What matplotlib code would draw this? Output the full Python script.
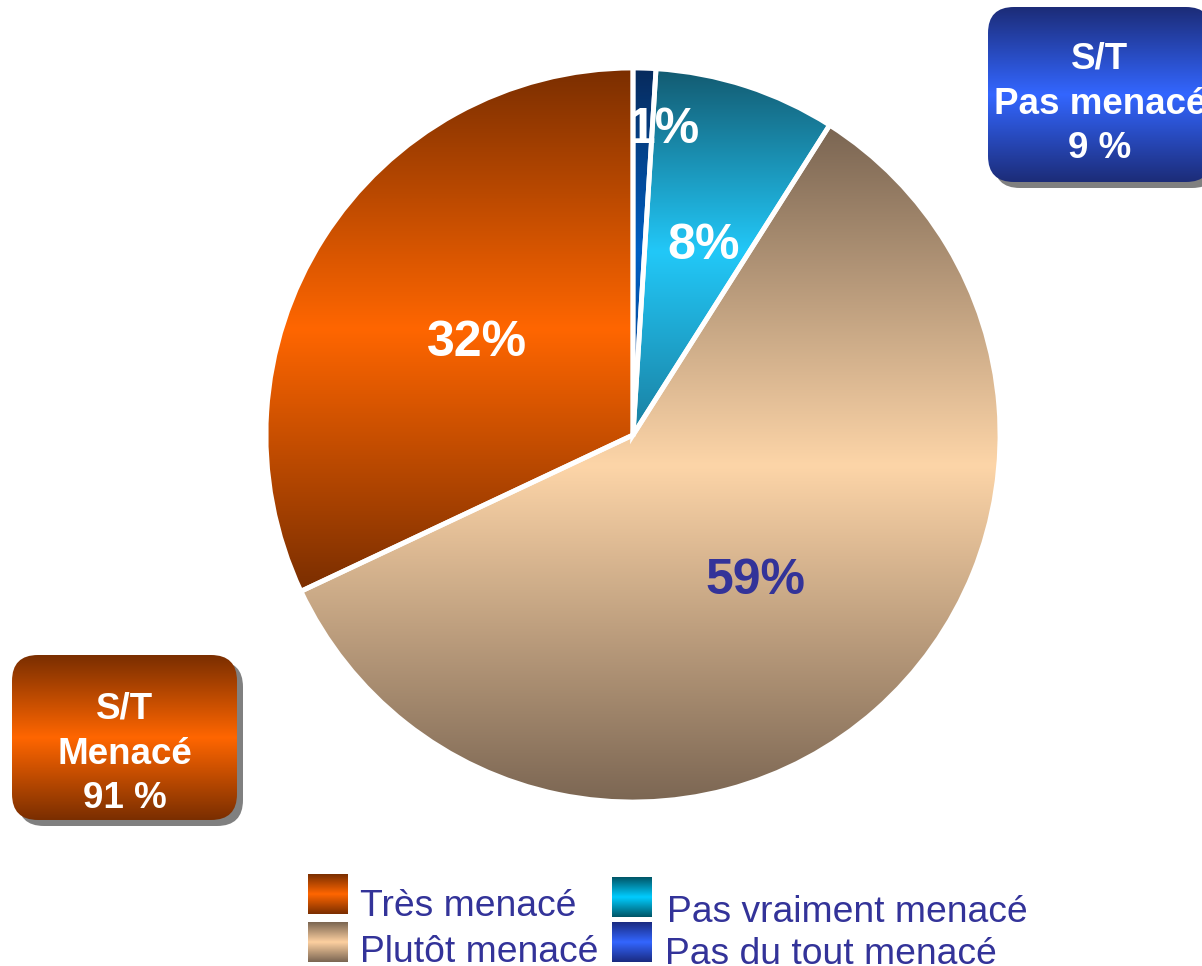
import numpy as np
import matplotlib
matplotlib.use('Agg')
import matplotlib.pyplot as plt
from matplotlib.colors import LinearSegmentedColormap
from matplotlib.patches import FancyBboxPatch, Rectangle

plt.rcParams['font.family'] = ['Liberation Sans', 'DejaVu Sans']

# data
categories = ['Pas du tout menacé', 'Pas vraiment menacé', 'Plutôt menacé', 'Très menacé']
values = [1, 8, 59, 32]
pct_labels = ['{}%'.format(v) for v in values]
threatened = values[2] + values[3]
not_threatened = values[0] + values[1]

# styles
W, H = 1202, 966
dy = 4  # small downward nudge for text centring
navy_text = '#333399'
slice_grad = [
    ['#072a5c', '#0060c4', '#0a3d80'],
    ['#135a70', '#22c8f8', '#1a7fa0'],
    ['#7a6552', '#fdd5a8', '#7a6552'],
    ['#7a2e00', '#ff6600', '#7a2e00'],
]
legend_grad = {
    'Très menacé': ['#7a2e00', '#ff6600', '#7a2e00'],
    'Plutôt menacé': ['#7a6552', '#fdd0a0', '#7a6552'],
    'Pas vraiment menacé': ['#005566', '#00ccff', '#005566'],
    'Pas du tout menacé': ['#1a2a80', '#3366ff', '#1a2a80'],
}
pct_colors = ['white', 'white', navy_text, 'white']
pct_r = [0.845, 0.56, 0.51, 0.50]
pct_dang = [-4, -2, -0.7, 0.9]

center = (633, H - 435)
radius = 367


def grad_cmap(cols):
    return LinearSegmentedColormap.from_list('g', cols)


def fill_gradient(ax, patch, cols, extent, z):
    grad = np.linspace(0, 1, 256).reshape(-1, 1)
    im = ax.imshow(grad, cmap=grad_cmap(cols), extent=extent, origin='upper',
                   aspect='auto', zorder=z, interpolation='bilinear')
    im.set_clip_path(patch)
    return im


fig = plt.figure(figsize=(W / 100, H / 100), dpi=100)
ax = fig.add_axes([0, 0, 1, 1])

wedges, _ = ax.pie(values, startangle=90, counterclock=False, center=center,
                   radius=radius, wedgeprops=dict(facecolor='none', edgecolor='white',
                                                  linewidth=3.5, zorder=3))

for w, cols in zip(wedges, slice_grad):
    v = w.get_path().vertices
    ext = (v[:, 0].min(), v[:, 0].max(), v[:, 1].min(), v[:, 1].max())
    fill_gradient(ax, w, cols, ext, 2)

for w, lab, col, rf, da in zip(wedges, pct_labels, pct_colors, pct_r, pct_dang):
    ang = np.deg2rad((w.theta1 + w.theta2) / 2 + da)
    x = center[0] + rf * radius * np.cos(ang)
    y = center[1] + rf * radius * np.sin(ang) - dy
    ax.text(x, y, lab, ha='center', va='center', fontsize=36, fontweight='bold',
            color=col, zorder=5)


# summary boxes
def summary_box(x0, y0, w, h, cols, lines, line_y):
    shadow = FancyBboxPatch((x0 + 6, y0 - 6), w, h, boxstyle='round,pad=0,rounding_size=26',
                            facecolor='#808080', edgecolor='none', zorder=1)
    ax.add_patch(shadow)
    box = FancyBboxPatch((x0, y0), w, h, boxstyle='round,pad=0,rounding_size=26',
                         facecolor='none', edgecolor='none', zorder=2)
    ax.add_patch(box)
    fill_gradient(ax, box, cols, (x0, x0 + w, y0, y0 + h), 2)
    for txt, ly in zip(lines, line_y):
        ax.text(x0 + w / 2, ly - dy, txt, ha='center', va='center', fontsize=26.5,
                fontweight='bold', color='white', zorder=5)


summary_box(988, H - 182, 224, 175, ['#1c2c78', '#3366ff', '#1c2c78'],
            ['S/T', 'Pas menacé', '{} %'.format(not_threatened)],
            [H - 55, H - 100, H - 145])
summary_box(12, H - 820, 225, 165, ['#7a2e00', '#ff6600', '#7a2e00'],
            ['S/T', 'Menacé', '{} %'.format(threatened)],
            [H - 705, H - 750, H - 795])

# legend
legend_items = [
    ('Très menacé', 308, 874, 360, 903),
    ('Plutôt menacé', 308, 922, 360, 948),
    ('Pas vraiment menacé', 612, 877, 667, 908),
    ('Pas du tout menacé', 612, 922, 665, 950),
]
for name, px, py, tx, ty in legend_items:
    r = Rectangle((px, H - py - 40), 40, 40, facecolor='none', edgecolor='none')
    ax.add_patch(r)
    fill_gradient(ax, r, legend_grad[name], (px, px + 40, H - py - 40, H - py), 2)
    ax.text(tx, H - ty - dy, name, ha='left', va='center', fontsize=26.8, color=navy_text)

ax.set_xlim(0, W)
ax.set_ylim(0, H)
ax.set_aspect('auto')
ax.axis('off')

fig.savefig('out.png', dpi=100, facecolor='white')
